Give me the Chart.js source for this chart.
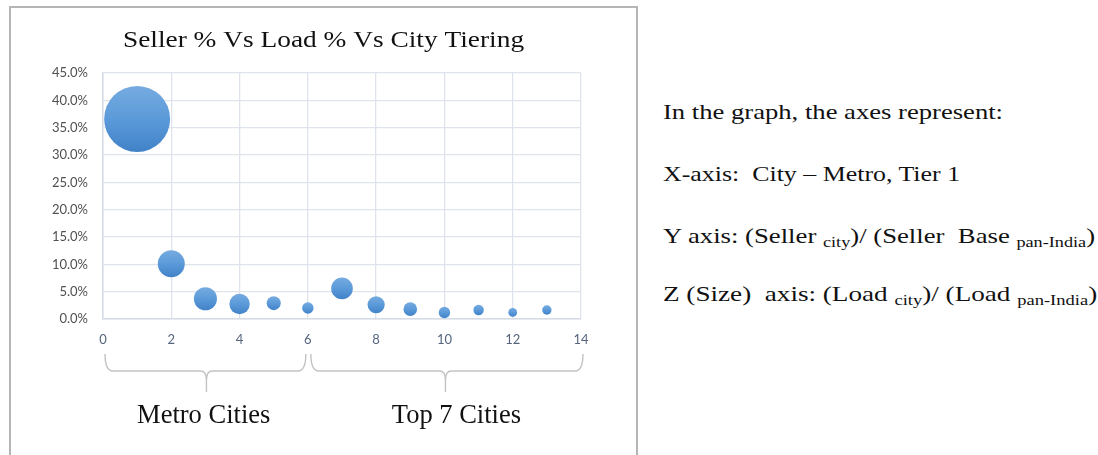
<!DOCTYPE html>
<html>
<head>
<meta charset="utf-8">
<script src="https://cdn.jsdelivr.net/npm/chart.js@4.4.1/dist/chart.umd.min.js"></script>
<style>
    html, body { margin: 0; padding: 0; background: #fff; width: 1098px; height: 455px; overflow: hidden; }
    #frame { position: absolute; left: 9px; top: 6px; width: 629px; height: 470px; border: 2px solid #b5b5b5; border-bottom: none; box-sizing: border-box; }
    #wrap { position: absolute; left: 10px; top: 0; width: 627px; height: 455px; }
    #notes { position: absolute; left: 663px; top: 0; font-family: "Liberation Serif", "Times New Roman", serif; font-size: 22px; color: #111; }
    #notes p { position: absolute; left: 0; margin: 0; line-height: 22px; white-space: nowrap; transform-origin: 0 0; }
    #notes sub { font-size: 15px; vertical-align: -4px; line-height: 0; }
</style>
</head>
<body>
<div id="frame"></div>
<div id="wrap"><canvas id="bubbleChart"></canvas></div>
<div id="notes">
    <p style="top:101px" data-w="340">In the graph, the axes represent:</p>
    <p style="top:163px" data-w="297">X-axis:&nbsp; City – Metro, Tier 1</p>
    <p style="top:225px" data-w="432">Y axis: (Seller <sub>city</sub>)/ (Seller&nbsp; Base <sub>pan-India</sub>)</p>
    <p style="top:283px" data-w="434">Z (Size)&nbsp; axis: (Load <sub>city</sub>)/ (Load <sub>pan-India</sub>)</p>
</div>
<script>
(function () {
    'use strict';

    // City index (x), seller share % (y), load share % (bubble size)
    const cityIndex   = [1, 2, 3, 4, 5, 6, 7, 8, 9, 10, 11, 12, 13];
    const sellerShare = [36.6, 10.1, 3.7, 2.75, 2.9, 2.0, 5.6, 2.6, 1.8, 1.2, 1.65, 1.2, 1.65];
    const loadShare   = [40, 6.7, 4.9, 3.8, 1.8, 1.2, 4.3, 2.7, 1.7, 1.2, 1.0, 0.7, 0.8];

    const yTicks = [0, 5, 10, 15, 20, 25, 30, 35, 40, 45];
    const xTicks = [0, 2, 4, 6, 8, 10, 12, 14];

    // group braces under the x axis: [from, to, label]
    const groupFrom   = [0, 6];
    const groupTo     = [6, 14];
    const groupNames  = ['Metro Cities', 'Top 7 Cities'];
    const groupTextAt = [2.95, 10.35];

    const TITLE = 'Seller % Vs Load % Vs City Tiering';
    const MAX_R = 33;   // px radius of the largest bubble
    const maxLoad = Math.max(...loadShare);

    const points = cityIndex.map((c, i) => ({
        x: c,
        y: sellerShare[i],
        r: MAX_R * Math.sqrt(loadShare[i] / maxLoad)
    }));

    function bubbleFill(ctx) {
        const c = ctx.chart;
        if (!c.chartArea || ctx.type !== 'data') return '#5b9bd5';
        const y = c.scales.y.getPixelForValue(ctx.raw.y);
        const r = ctx.raw.r;
        const g = c.ctx.createLinearGradient(0, y - r, 0, y + r);
        g.addColorStop(0, '#76abe0');
        g.addColorStop(0.5, '#5b9ad9');
        g.addColorStop(1, '#4182c8');
        return g;
    }

    // title + braces + group names
    const decor = {
        id: 'decor',
        afterDraw(c) {
            const ctx = c.ctx;
            const xs = c.scales.x;
            const bottom = c.chartArea.bottom;
            ctx.save();

            ctx.fillStyle = '#111';
            ctx.textBaseline = 'alphabetic';
            ctx.textAlign = 'center';
            ctx.save();
            ctx.translate(c.width / 2, 47);
            ctx.scale(1.19, 1);
            ctx.font = '23px "Liberation Serif", "Times New Roman", serif';
            ctx.fillText(TITLE, 0, 0);
            ctx.restore();

            ctx.strokeStyle = '#c3c3c3';
            ctx.lineWidth = 1.4;
            const top = bottom + 35, mid = bottom + 52, stem = bottom + 73;
            for (let i = 0; i < groupNames.length; i++) {
                const x0 = xs.getPixelForValue(groupFrom[i]) + (i === 0 ? 2 : 3);
                const x1 = xs.getPixelForValue(groupTo[i]) + (i === 0 ? -2 : 2);
                const xm = xs.getPixelForValue((groupFrom[i] + groupTo[i]) / 2) + 1;
                ctx.beginPath();
                ctx.moveTo(x0, top);
                ctx.quadraticCurveTo(x0, mid, x0 + 8, mid);
                ctx.lineTo(xm - 6, mid);
                ctx.quadraticCurveTo(xm, mid, xm, mid + 9);
                ctx.lineTo(xm, stem);
                ctx.moveTo(xm, mid + 9);
                ctx.quadraticCurveTo(xm, mid, xm + 6, mid);
                ctx.lineTo(x1 - 8, mid);
                ctx.quadraticCurveTo(x1, mid, x1, top);
                ctx.stroke();

                ctx.font = '26.5px "Liberation Serif", "Times New Roman", serif';
                ctx.fillText(groupNames[i], xs.getPixelForValue(groupTextAt[i]), bottom + 104);
            }
            ctx.restore();
        }
    };

    function buildChart() {
        const ctx = document.getElementById('bubbleChart').getContext('2d');
        new Chart(ctx, {
            type: 'bubble',
            data: {
                datasets: [{
                    label: 'Seller % vs Load %',
                    data: points,
                    backgroundColor: bubbleFill,
                    borderWidth: 0,
                    hoverRadius: 0
                }]
            },
            options: {
                responsive: true,
                maintainAspectRatio: false,
                animation: false,
                events: [],
                layout: { padding: { top: 73, right: 56, left: 0, bottom: 0 } },
                plugins: {
                    legend: { display: false },
                    tooltip: { enabled: false },
                    title: { display: false }
                },
                scales: {
                    x: {
                        type: 'linear',
                        min: 0,
                        max: 14,
                        afterBuildTicks: (s) => { s.ticks = xTicks.map(v => ({ value: v })); },
                        afterFit: (s) => { s.height = 455 - 319; },
                        grid: { color: '#dfe4ec', lineWidth: 1.3, drawTicks: false },
                        border: { color: '#d6dce6', width: 1.5 },
                        ticks: {
                            padding: 13,
                            color: '#56657d',
                            font: { family: 'Lato, "Liberation Sans", sans-serif', size: 13 }
                        }
                    },
                    y: {
                        min: 0,
                        max: 45,
                        afterBuildTicks: (s) => { s.ticks = yTicks.map(v => ({ value: v })); },
                        afterFit: (s) => { s.width = 93; },
                        grid: { color: '#dfe4ec', lineWidth: 1.3, drawTicks: false },
                        border: { color: '#d6dce6', width: 1.5 },
                        ticks: {
                            padding: 15,
                            color: '#505050',
                            font: { family: 'Lato, "Liberation Sans", sans-serif', size: 13 },
                            callback: (v) => v.toFixed(1) + '%'
                        }
                    }
                }
            },
            plugins: [decor]
        });
    }

    // stretch the note lines to the widths of the original layout
    function fitNotes() {
        document.querySelectorAll('#notes p').forEach((p) => {
            const w = p.getBoundingClientRect().width;
            const target = +p.dataset.w;
            if (w > 0) p.style.transform = 'scaleX(' + (target / w).toFixed(3) + ')';
        });
    }

    function init() {
        buildChart();
        fitNotes();
    }
    if (document.readyState === 'loading') {
        document.addEventListener('DOMContentLoaded', init);
    } else {
        init();
    }
})();
</script>
</body>
</html>
